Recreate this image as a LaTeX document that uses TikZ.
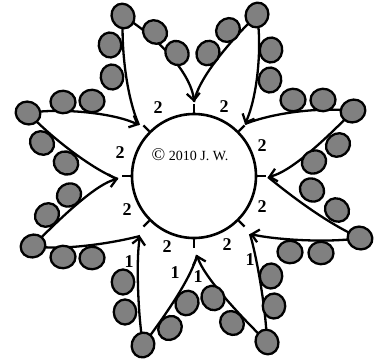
\documentclass[tikz,border=0pt]{standalone}
\usepackage{fontspec}
\setmainfont{Liberation Serif}
\usetikzlibrary{shapes.geometric,arrows.meta,calc}
\definecolor{beadgray}{RGB}{128,128,128}
\begin{document}
\begin{tikzpicture}[x=1pt,y=-1pt,
  thread/.style={line width=2.3pt, line join=round, -{Straight Barb[length=7pt,width=13pt,line width=2.3pt]}},
  bead/.style={ellipse, draw, line width=2.3pt, fill=beadgray, minimum width=25pt, minimum height=22.5pt, inner sep=0pt},
  num/.style={font=\fontsize{18}{18}\selectfont\bfseries, inner sep=0pt},
  tickmark/.style={line width=2.3pt},
  ring/.style={draw, circle, line width=2.6pt, minimum size=124pt, inner sep=0pt}]
\useasboundingbox (0,0) rectangle (378,360);
% arrow tips at the ticks
\coordinate (T90)  at (194,102);
\coordinate (T45)  at (245,124);
\coordinate (T0)   at (268,177);
\coordinate (Tm45) at (250,234);
\coordinate (Tm90) at (197,255);
\coordinate (Tm135) at (140,236);
\coordinate (T180) at (118,179);
\coordinate (T135) at (139,125);
% apex points
\coordinate (A67)  at (257,15);
\coordinate (A112) at (123,16);
\coordinate (A157) at (28,113);
\coordinate (Am157) at (33,246);
\coordinate (Am112) at (143,345);
\coordinate (Am67) at (267,342);
\coordinate (Am22) at (360,238);
\coordinate (A22)  at (353,111);
% petals (thread runs clockwise)
\draw[thread] (T135) .. controls (126,96) and (121,46) .. (A112) .. controls (165,42) and (192,78) .. (T90);
\draw[thread] (T90) .. controls (198,80) and (226,45) .. (A67) .. controls (262,45) and (258,95) .. (T45);
\draw[thread] (T45) .. controls (275,112) and (323,107) .. (A22) .. controls (323,142) and (290,172) .. (T0);
\draw[thread] (T0) .. controls (290,195) and (325,222) .. (Am22) .. controls (330,243) and (277,240) .. (Tm45);
\draw[thread] (Tm45) .. controls (258,262) and (266,312) .. (Am67) .. controls (236,312) and (203,275) .. (Tm90);
\draw[thread] (Tm90) .. controls (192,276) and (168,312) .. (Am112) .. controls (138,315) and (136,261) .. (Tm135);
\draw[thread] (Tm135) .. controls (113,243) and (63,251) .. (Am157) .. controls (63,215) and (98,183) .. (T180);
\draw[thread] (T180) .. controls (98,172) and (58,144) .. (A157) .. controls (58,108) and (111,112) .. (T135);
% centre ring and ticks
\node[ring] (C) at (194,176) {};
\foreach \a in {0,45,...,315} \draw[tickmark] (C.\a) -- ($(C.center)!1.13!(C.\a)$);
% beads
\foreach \x/\y/\r [count=\i] in {
  257/15/69, 228/30/45, 208/53/60, 271/50/84, 270/80/84,
  123/16/114, 155/32/140, 177/53/125, 110/45/95, 112/77/95,
  28/113/159, 63/102/178, 92/101/178, 42/143/140, 66/163/150,
  33/246/23, 69/195/35, 47/215/40, 63/257/2, 92/258/2,
  143/345/73, 170/328/50, 187/303/62, 123/282/90, 125/312/90,
  267/342/114, 213/298/120, 232/323/133, 271/276/88, 274/306/88,
  360/238/160, 312/190/145, 337/210/142, 290/252/178, 321/253/178,
  353/111/22, 338/145/40, 314/162/35, 293/100/2, 323/100/2}
  \node[bead, rotate=\r] (b\i) at (\x,\y) {};
% counts
\node[num] (n1) at (158,108) {2};
\node[num] (n2) at (224,107) {2};
\node[num] (n3) at (120,153) {2};
\node[num] (n4) at (262,146) {2};
\node[num] (n5) at (127,210) {2};
\node[num] (n6) at (262,207) {2};
\node[num] (n7) at (167,247) {2};
\node[num] (n8) at (227,245) {2};
\node[num] (m1) at (129,262) {1};
\node[num] (m2) at (175,273) {1};
\node[num] (m3) at (198,277) {1};
\node[num] (m4) at (250,260) {1};
% copyright
\node[font=\fontsize{14}{15}\selectfont, inner sep=0pt] (cr) at (190,155) {{\fontsize{18}{18}\selectfont\textcopyright} 2010 J.\ W.};
\end{tikzpicture}
\end{document}
